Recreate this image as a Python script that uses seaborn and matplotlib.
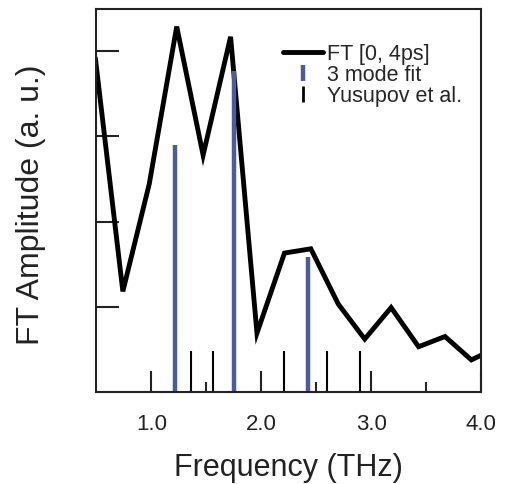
import numpy as np
import pandas as pd
import matplotlib
matplotlib.use("Agg")
import matplotlib.pyplot as plt
from matplotlib.lines import Line2D
import seaborn as sns

# FT spectrum
freq = [0.49, 0.74, 0.98, 1.23, 1.47, 1.72, 1.96, 2.21, 2.45, 2.70, 2.94, 3.18, 3.43, 3.67, 3.91, 4.16]
amp = [3.92, 1.18, 2.44, 4.29, 2.78, 4.17, 0.69, 1.63, 1.68, 1.03, 0.62, 0.99, 0.53, 0.65, 0.375, 0.53]

# 3 mode fit
fit_freq = [1.21, 1.754, 2.427]
fit_amp = [2.90, 3.77, 1.58]

# Yusupov et al. modes
yus_freq = [1.36, 1.56, 2.21, 2.60, 2.90]
yus_amp = [0.48, 0.48, 0.48, 0.48, 0.48]

blue = "#4b5b9b"

sns.set_style("ticks")
plt.rcParams["font.family"] = ["Liberation Sans", "DejaVu Sans"]

fig = plt.figure(figsize=(5.05, 4.85), dpi=100)
ax = fig.add_axes([0.191, 0.190, 0.762, 0.790])

df = pd.DataFrame({"freq": freq, "amp": amp})
sns.lineplot(data=df, x="freq", y="amp", ax=ax, color="black", lw=3.5,
             solid_joinstyle="miter", legend=False)
ax.vlines(fit_freq, 0, fit_amp, color=blue, lw=3.2)
ax.vlines(yus_freq, 0, yus_amp, color="black", lw=1.5)

ax.set_xlim(0.5, 4.0)
ax.set_ylim(0, 4.5)
ax.set_xticks([1.0, 2.0, 3.0, 4.0])
ax.set_xticklabels(["1.0", "2.0", "3.0", "4.0"])
ax.set_xticks([1.5, 2.5, 3.5], minor=True)
ax.set_yticks([1, 2, 3, 4])
ax.set_yticklabels([])
ax.tick_params(axis="both", which="major", direction="in", length=15, width=1.5,
               labelsize=16, pad=15, colors="#222222")
ax.tick_params(axis="y", which="major", length=16.5)
ax.tick_params(axis="x", which="minor", direction="in", length=7, width=1.5)
for s in ax.spines.values():
    s.set_linewidth(1.5)
    s.set_color("#222222")

ax.set_xlabel("Frequency (THz)", fontsize=22, color="#222222", labelpad=13)
ax.set_ylabel("FT Amplitude (a. u.)", fontsize=23, color="#222222", va="center")
ax.yaxis.set_label_coords(-0.17, 0.49)

handles = [
    Line2D([], [], color="black", lw=3.5),
    Line2D([], [], color=blue, lw=0, marker="|", markersize=12, markeredgewidth=3.2),
    Line2D([], [], color="black", lw=0, marker="|", markersize=12, markeredgewidth=2),
]
labels = ["FT [0, 4ps]", "3 mode fit", "Yusupov et al."]
ax.legend(handles, labels, loc="upper left", bbox_to_anchor=(0.485, 0.91),
          frameon=False, fontsize=15.5, handlelength=1.85, handletextpad=0.2,
          borderpad=0, borderaxespad=0, labelspacing=0.0)

fig.savefig("out.png", dpi=100)
